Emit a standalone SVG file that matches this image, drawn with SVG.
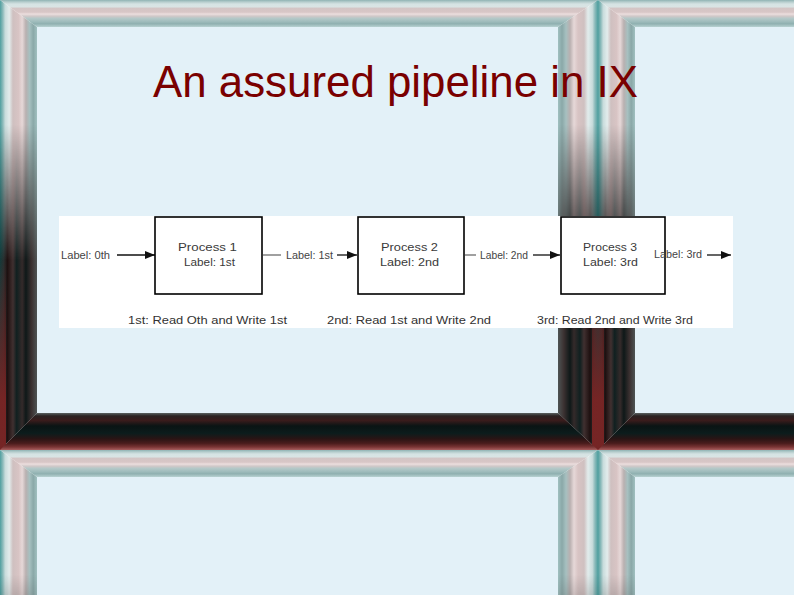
<svg xmlns="http://www.w3.org/2000/svg" width="794" height="595" viewBox="0 0 794 595">
<style>
.t{font-family:"Liberation Sans",Arial,Helvetica,sans-serif}
.lbl{font-size:10.5px;fill:#444}
.proc{font-size:11.5px;fill:#3a3a3a}
.cap{font-size:11px;fill:#333}
.box{fill:#fff;stroke:#000;stroke-width:1.6}
.arr{stroke:#111;stroke-width:1.3;fill:none}
.gry{stroke:#a0a0a0;stroke-width:2;fill:none}
</style>
<defs>
<linearGradient id="gTop" gradientUnits="userSpaceOnUse" x1="0" y1="0" x2="0" y2="27">
<stop offset="0" stop-color="#8fb3b3"/><stop offset="0.07" stop-color="#b5cccc"/><stop offset="0.15" stop-color="#d5e3e3"/><stop offset="0.26" stop-color="#d9e4e4"/><stop offset="0.3" stop-color="#d3c5c5"/><stop offset="0.45" stop-color="#d8c6c6"/><stop offset="0.52" stop-color="#ecdede"/><stop offset="0.6" stop-color="#d0c8c8"/><stop offset="0.68" stop-color="#b4c8c8"/><stop offset="0.8" stop-color="#9fbcbc"/><stop offset="0.88" stop-color="#8fb0b0"/><stop offset="1" stop-color="#b8d2d2"/>
</linearGradient>
<linearGradient id="gLeftL" gradientUnits="userSpaceOnUse" x1="0" y1="0" x2="37" y2="0">
<stop offset="0" stop-color="#4f9f9f"/><stop offset="0.08" stop-color="#8fbcbc"/><stop offset="0.14" stop-color="#c8dcdc"/><stop offset="0.25" stop-color="#e2ecec"/><stop offset="0.35" stop-color="#cfc0c0"/><stop offset="0.5" stop-color="#d8c4c4"/><stop offset="0.6" stop-color="#e6d8d8"/><stop offset="0.7" stop-color="#b9b0b0"/><stop offset="0.8" stop-color="#a6c0c0"/><stop offset="0.9" stop-color="#8aa8a8"/><stop offset="1" stop-color="#a0c0c0"/>
</linearGradient>
<linearGradient id="gRightL" gradientUnits="userSpaceOnUse" x1="598" y1="0" x2="558" y2="0">
<stop offset="0" stop-color="#4f9f9f"/><stop offset="0.08" stop-color="#8fbcbc"/><stop offset="0.14" stop-color="#c8dcdc"/><stop offset="0.25" stop-color="#e2ecec"/><stop offset="0.35" stop-color="#cfc0c0"/><stop offset="0.5" stop-color="#d8c4c4"/><stop offset="0.6" stop-color="#e6d8d8"/><stop offset="0.7" stop-color="#b9b0b0"/><stop offset="0.8" stop-color="#a6c0c0"/><stop offset="0.9" stop-color="#8aa8a8"/><stop offset="1" stop-color="#a0c0c0"/>
</linearGradient>
<linearGradient id="gLeftD" gradientUnits="userSpaceOnUse" x1="0" y1="0" x2="37" y2="0">
<stop offset="0" stop-color="#0e3c3c"/><stop offset="0.1" stop-color="#223030"/><stop offset="0.2" stop-color="#1e1010"/><stop offset="0.35" stop-color="#403030"/><stop offset="0.45" stop-color="#102020"/><stop offset="0.6" stop-color="#342a2a"/><stop offset="0.7" stop-color="#0e1818"/><stop offset="0.85" stop-color="#3a3030"/><stop offset="1" stop-color="#4e5454"/>
</linearGradient>
<linearGradient id="gRightD" gradientUnits="userSpaceOnUse" x1="598" y1="0" x2="558" y2="0">
<stop offset="0" stop-color="#0e3c3c"/><stop offset="0.1" stop-color="#223030"/><stop offset="0.2" stop-color="#1e1010"/><stop offset="0.35" stop-color="#403030"/><stop offset="0.45" stop-color="#102020"/><stop offset="0.6" stop-color="#342a2a"/><stop offset="0.7" stop-color="#0e1818"/><stop offset="0.85" stop-color="#3a3030"/><stop offset="1" stop-color="#4e5454"/>
</linearGradient>
<linearGradient id="gBot" gradientUnits="userSpaceOnUse" x1="0" y1="413" x2="0" y2="450">
<stop offset="0" stop-color="#5a6262"/><stop offset="0.08" stop-color="#2a2222"/><stop offset="0.2" stop-color="#3a1c1c"/><stop offset="0.35" stop-color="#0a1414"/><stop offset="0.55" stop-color="#0c1c1c"/><stop offset="0.7" stop-color="#2a1414"/><stop offset="0.82" stop-color="#4a1c1c"/><stop offset="0.92" stop-color="#7a3434"/><stop offset="1" stop-color="#a86060"/>
</linearGradient>
<linearGradient id="gFade" gradientUnits="userSpaceOnUse" x1="0" y1="125" x2="0" y2="260">
<stop offset="0" stop-color="#fff" stop-opacity="0"/><stop offset="1" stop-color="#fff" stop-opacity="1"/>
</linearGradient>
<linearGradient id="gRed" gradientUnits="userSpaceOnUse" x1="0" y1="250" x2="0" y2="400">
<stop offset="0" stop-color="#7a2020" stop-opacity="0"/><stop offset="1" stop-color="#7a2424" stop-opacity="0.95"/>
</linearGradient>
<mask id="mFade" maskUnits="userSpaceOnUse" x="0" y="0" width="598" height="450">
<rect x="0" y="0" width="598" height="450" fill="url(#gFade)"/>
</mask>
<marker id="ah" markerUnits="userSpaceOnUse" markerWidth="10" markerHeight="8" refX="10" refY="4" orient="auto">
<path d="M0,0 L10,4 L0,8 z" fill="#111"/>
</marker>
<g id="tile">
<rect x="37" y="27" width="521" height="386" fill="#e3f1f8"/>
<polygon points="0,0 598,0 558,27 37,27" fill="url(#gTop)"/>
<polygon points="0,0 37,27 37,413 0,450" fill="url(#gLeftL)"/>
<polygon points="598,0 598,450 558,413 558,27" fill="url(#gRightL)"/>
<g mask="url(#mFade)">
<polygon points="0,0 37,27 37,413 0,450" fill="url(#gLeftD)"/>
<polygon points="598,0 598,450 558,413 558,27" fill="url(#gRightD)"/>
</g>
<rect x="0" y="200" width="6" height="250" fill="url(#gRed)"/>
<rect x="592" y="200" width="6" height="250" fill="url(#gRed)"/>
<polygon points="0,450 37,413 558,413 598,450" fill="url(#gBot)"/>
</g>
</defs>

<g id="background">
<use href="#tile"/>
<use href="#tile" x="598"/>
<use href="#tile" y="450"/>
<use href="#tile" x="598" y="450"/>
</g>

<text id="title" class="t" x="153" y="97" font-size="44" fill="#7a0000" textLength="485" lengthAdjust="spacingAndGlyphs">An assured pipeline in IX</text>

<rect id="panel" x="59" y="216" width="674" height="112" fill="#ffffff"/>

<g id="connectors">
<line class="arr" x1="117" y1="255" x2="155" y2="255" marker-end="url(#ah)"/>
<line class="gry" x1="263" y1="255" x2="281" y2="255"/>
<line class="arr" x1="337" y1="255" x2="357" y2="255" marker-end="url(#ah)"/>
<line class="gry" x1="465" y1="255" x2="476" y2="255"/>
<line class="arr" x1="533" y1="255" x2="560" y2="255" marker-end="url(#ah)"/>
<line class="arr" x1="707" y1="255" x2="731" y2="255" marker-end="url(#ah)"/>
</g>

<g id="process1">
<rect class="box" x="155" y="217" width="107" height="77"/>
<text class="t proc" x="178" y="251" textLength="59" lengthAdjust="spacingAndGlyphs">Process 1</text>
<text class="t proc" x="184" y="266" textLength="51" lengthAdjust="spacingAndGlyphs">Label: 1st</text>
</g>
<g id="process2">
<rect class="box" x="358" y="217" width="106" height="77"/>
<text class="t proc" x="381" y="251" textLength="57" lengthAdjust="spacingAndGlyphs">Process 2</text>
<text class="t proc" x="380" y="266" textLength="59" lengthAdjust="spacingAndGlyphs">Label: 2nd</text>
</g>
<g id="process3">
<rect class="box" x="561" y="217" width="104" height="77"/>
<text class="t proc" x="583" y="251" textLength="54" lengthAdjust="spacingAndGlyphs">Process 3</text>
<text class="t proc" x="583" y="266" textLength="55" lengthAdjust="spacingAndGlyphs">Label: 3rd</text>
</g>

<g id="connector-labels">
<text class="t lbl" x="61" y="258.8" textLength="49" lengthAdjust="spacingAndGlyphs">Label: 0th</text>
<text class="t lbl" x="286" y="258.8" textLength="47" lengthAdjust="spacingAndGlyphs">Label: 1st</text>
<text class="t lbl" x="480" y="258.8" textLength="48" lengthAdjust="spacingAndGlyphs">Label: 2nd</text>
<text class="t lbl" x="654" y="258" textLength="48" lengthAdjust="spacingAndGlyphs">Label: 3rd</text>
</g>

<g id="captions">
<text class="t cap" x="128" y="324" textLength="159" lengthAdjust="spacingAndGlyphs">1st: Read Oth and Write 1st</text>
<text class="t cap" x="327" y="324" textLength="164" lengthAdjust="spacingAndGlyphs">2nd: Read 1st and Write 2nd</text>
<text class="t cap" x="537" y="324" textLength="156" lengthAdjust="spacingAndGlyphs">3rd: Read 2nd and Write 3rd</text>
</g>
</svg>
